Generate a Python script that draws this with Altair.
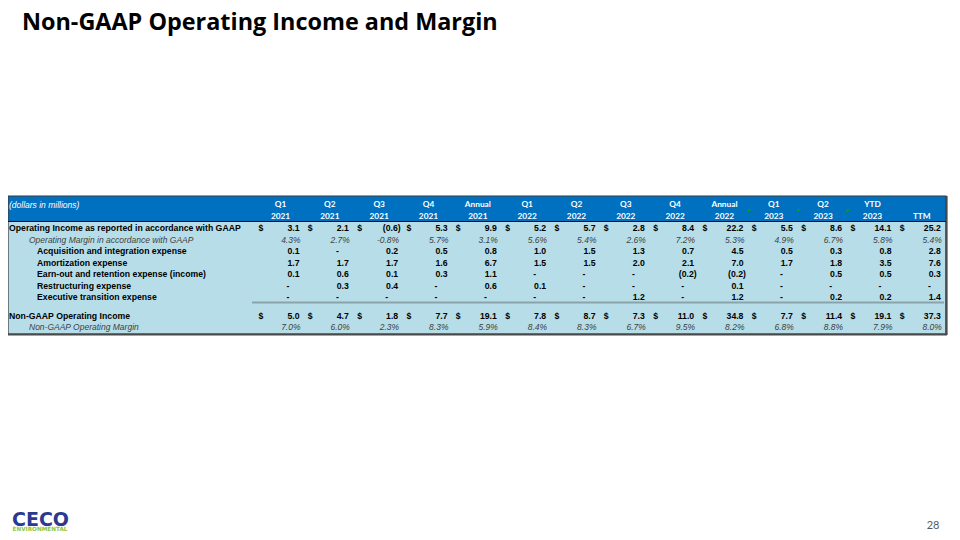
import altair as alt
import pandas as pd

# ------------------------------------------------------------------ data
quarters = ["Q1", "Q2", "Q3", "Q4", "Annual", "Q1", "Q2", "Q3", "Q4", "Annual",
            "Q1", "Q2", "YTD", ""]
years = ["2021", "2021", "2021", "2021", "2021", "2022", "2022", "2022", "2022",
         "2022", "2023", "2023", "2023", "TTM"]

row_labels = [
    "Operating Income as reported in accordance with GAAP",
    "Operating Margin in accordance with GAAP",
    "Acquisition and integration expense",
    "Amortization expense",
    "Earn-out and retention expense (income)",
    "Restructuring expense",
    "Executive transition expense",
    "Non-GAAP Operating Income",
    "Non-GAAP Operating Margin",
]
row_kinds = ["main", "margin", "sub", "sub", "sub", "sub", "sub", "main", "margin"]
row_has_dollar = [True, False, False, False, False, False, False, True, False]

op_income = ["3.1", "2.1", "(0.6)", "5.3", "9.9", "5.2", "5.7", "2.8", "8.4", "22.2",
             "5.5", "8.6", "14.1", "25.2"]
op_margin = ["4.3%", "2.7%", "-0.8%", "5.7%", "3.1%", "5.6%", "5.4%", "2.6%", "7.2%",
             "5.3%", "4.9%", "6.7%", "5.8%", "5.4%"]
acquisition = ["0.1", "-", "0.2", "0.5", "0.8", "1.0", "1.5", "1.3", "0.7", "4.5",
               "0.5", "0.3", "0.8", "2.8"]
amortization = ["1.7", "1.7", "1.7", "1.6", "6.7", "1.5", "1.5", "2.0", "2.1", "7.0",
                "1.7", "1.8", "3.5", "7.6"]
earnout = ["0.1", "0.6", "0.1", "0.3", "1.1", "-", "-", "-", "(0.2)", "(0.2)",
           "-", "0.5", "0.5", "0.3"]
restructuring = ["-", "0.3", "0.4", "-", "0.6", "0.1", "-", "-", "-", "0.1",
                 "-", "-", "-", "-"]
executive = ["-", "-", "-", "-", "-", "-", "-", "1.2", "-", "1.2",
             "-", "0.2", "0.2", "1.4"]
nongaap_income = ["5.0", "4.7", "1.8", "7.7", "19.1", "7.8", "8.7", "7.3", "11.0",
                  "34.8", "7.7", "11.4", "19.1", "37.3"]
nongaap_margin = ["7.0%", "6.0%", "2.3%", "8.3%", "5.9%", "8.4%", "8.3%", "6.7%",
                  "9.5%", "8.2%", "6.8%", "8.8%", "7.9%", "8.0%"]

rows_values = [op_income, op_margin, acquisition, amortization, earnout,
               restructuring, executive, nongaap_income, nongaap_margin]
flagged_cols = [10, 11, 12]   # Excel green corner indicators

title_text = "Non-GAAP Operating Income and Margin"
units_text = "(dollars in millions)"
page_number = "28"

# ------------------------------------------------------------------ layout
W, H = 944, 524
PAGE = 8
COL0_PX = 299.5      # page x of the digits' right edge, first column
COL_W = 49.33
ROW0_PY = 228
ROW_H = 11.5
GAP = 0.65           # extra space before the Non-GAAP block (in rows)

PCT_DX, NEG_DX, DASH_DX, DOLLAR_DX, HEAD_DX, TRI_DX = 1, 2.5, -10, -41, -19, -43


def col_at(px):
    return (px - COL0_PX) / COL_W


def row_at(py):
    return (py - ROW0_PY) / ROW_H


X_DOMAIN = [col_at(PAGE), col_at(PAGE + W)]
Y_DOMAIN = [row_at(PAGE), row_at(PAGE + H)]
row_pos = [i if i < 7 else i + GAP for i in range(len(row_labels))]
indent = {"main": 9, "margin": 29, "sub": 37}

# ------------------------------------------------------------------ tables
cells, dollars, labels, heads = [], [], [], []
for ri, vals in enumerate(rows_values):
    kind = row_kinds[ri]
    for ci, v in enumerate(vals):
        if v.endswith("%"):
            off = PCT_DX
        elif v.startswith("("):
            off = NEG_DX
        elif v == "-":
            off = DASH_DX
        else:
            off = 0
        cells.append(dict(x=ci + off / COL_W, y=row_pos[ri], text=v,
                          style="pct" if kind == "margin" else "num"))
        if row_has_dollar[ri]:
            dollars.append(dict(x=ci + DOLLAR_DX / COL_W, y=row_pos[ri], text="$"))
    labels.append(dict(x=col_at(indent[kind]), y=row_pos[ri], text=row_labels[ri],
                       style="it" if kind == "margin" else "bold"))
for ci in range(len(years)):
    if quarters[ci]:
        heads.append(dict(x=ci + HEAD_DX / COL_W, y=-2, text=quarters[ci]))
    heads.append(dict(x=ci + HEAD_DX / COL_W, y=-1, text=years[ci]))

cells = pd.DataFrame(cells)
dollars = pd.DataFrame(dollars)
labels = pd.DataFrame(labels)
heads = pd.DataFrame(heads)
tri = pd.DataFrame(dict(x=[c + TRI_DX / COL_W for c in flagged_cols],
                        y=[row_at(211)] * len(flagged_cols)))

xs = alt.Scale(domain=X_DOMAIN, nice=False, zero=False)
ys = alt.Scale(domain=Y_DOMAIN, range=[0, H], nice=False, zero=False)


def XF(f="x"):
    return alt.X(f, type="quantitative", scale=xs, axis=None)


def YF(f="y"):
    return alt.Y(f, type="quantitative", scale=ys, axis=None)


def XD(v):
    return alt.X(datum=v, type="quantitative", scale=xs, axis=None)


def YD(v):
    return alt.Y(datum=v, type="quantitative", scale=ys, axis=None)


FONT = "Liberation Sans"
base_rect = alt.Chart(pd.DataFrame({"a": [0]}))

header_bg = base_rect.mark_rect(color="#0070C0").encode(
    x=XD(col_at(8)), x2=alt.X2(datum=col_at(946)),
    y=YD(row_at(196)), y2=alt.Y2(datum=row_at(221.5)))
body_bg = base_rect.mark_rect(color="#B7DEE8").encode(
    x=XD(col_at(8)), x2=alt.X2(datum=col_at(946)),
    y=YD(row_at(221.5)), y2=alt.Y2(datum=row_at(334)))
frame = base_rect.mark_rect(fill=None, stroke="#3A3A3A", strokeWidth=1.2).encode(
    x=XD(col_at(8)), x2=alt.X2(datum=col_at(946)),
    y=YD(row_at(196)), y2=alt.Y2(datum=row_at(334)))
shadow_b = base_rect.mark_rule(color="#4A4A4A", strokeWidth=2.2).encode(
    x=XD(col_at(8)), x2=alt.X2(datum=col_at(947)), y=YD(row_at(334.5)))
shadow_r = base_rect.mark_rule(color="#4A4A4A", strokeWidth=2.2).encode(
    x=XD(col_at(946.5)), y=YD(row_at(196)), y2=alt.Y2(datum=row_at(335)))
head_line = base_rect.mark_rule(color="#111111", strokeWidth=1.2).encode(
    x=XD(col_at(8)), x2=alt.X2(datum=col_at(946)), y=YD(row_at(221.5)))
sep_line = base_rect.mark_rule(color="#8AA3AA", strokeWidth=2).encode(
    x=XD(col_at(252)), x2=alt.X2(datum=col_at(944)), y=YD(row_at(302.5)))

head_text = alt.Chart(heads).mark_text(
    align="center", baseline="middle", font="Lato", fontSize=8.3,
    fontWeight="bold", color="white").encode(x=XF(), y=YF(), text="text:N")
units = base_rect.mark_text(
    align="left", baseline="middle", font=FONT, fontSize=8.5, fontStyle="italic",
    color="white", text=units_text).encode(x=XD(col_at(9)), y=YD(-2))

num_text = alt.Chart(cells).transform_filter(alt.datum.style == "num").mark_text(
    align="right", baseline="middle", font=FONT, fontSize=8.7, fontWeight="bold",
    color="#000000").encode(x=XF(), y=YF(), text="text:N")
pct_text = alt.Chart(cells).transform_filter(alt.datum.style == "pct").mark_text(
    align="right", baseline="middle", font=FONT, fontSize=8.5, fontStyle="italic",
    color="#404040").encode(x=XF(), y=YF(), text="text:N")
dollar_text = alt.Chart(dollars).mark_text(
    align="left", baseline="middle", font=FONT, fontSize=8.7, fontWeight="bold",
    color="#000000").encode(x=XF(), y=YF(), text="text:N")
label_bold = alt.Chart(labels).transform_filter(alt.datum.style == "bold").mark_text(
    align="left", baseline="middle", font=FONT, fontSize=8.7, fontWeight="bold",
    color="#000000").encode(x=XF(), y=YF(), text="text:N")
label_it = alt.Chart(labels).transform_filter(alt.datum.style == "it").mark_text(
    align="left", baseline="middle", font=FONT, fontSize=8.5, fontStyle="italic",
    color="#404040").encode(x=XF(), y=YF(), text="text:N")
tri_marks = alt.Chart(tri).mark_point(
    shape="M -1 -1 L 1 -1 L -1 1 Z", filled=True, color="#109A10", size=16,
    opacity=1).encode(x=XF(), y=YF())

title = base_rect.mark_text(
    align="left", baseline="alphabetic", font="Open Sans", fontSize=23.4,
    fontWeight="bold", color="#000000", text=title_text).encode(
    x=alt.value(14), y=alt.value(22))
pnum = base_rect.mark_text(
    align="center", baseline="middle", font="Lato", fontSize=11,
    color="#595959", text=page_number).encode(x=alt.value(925), y=alt.value(518))
logo = base_rect.mark_text(
    align="left", baseline="alphabetic", font="DejaVu Sans", fontSize=19,
    fontWeight="bold", color="#2B3990", text="CECO").encode(
    x=alt.value(4), y=alt.value(518))
logo_sub = base_rect.mark_text(
    align="left", baseline="alphabetic", font="DejaVu Sans", fontSize=5.7,
    fontWeight="bold", color="#8DC63F", text="ENVIRONMENTAL").encode(
    x=alt.value(4.5), y=alt.value(523))

chart = alt.layer(
    header_bg, body_bg, frame, shadow_b, shadow_r, head_line, sep_line,
    head_text, units, num_text, pct_text, dollar_text, label_bold, label_it,
    tri_marks, title, pnum, logo, logo_sub,
).properties(
    width=W, height=H, padding=0,
    autosize=alt.AutoSizeParams(type="none"),
).configure_view(stroke=None)

chart.save("out.html", embed_options={"renderer": "svg", "actions": False})
